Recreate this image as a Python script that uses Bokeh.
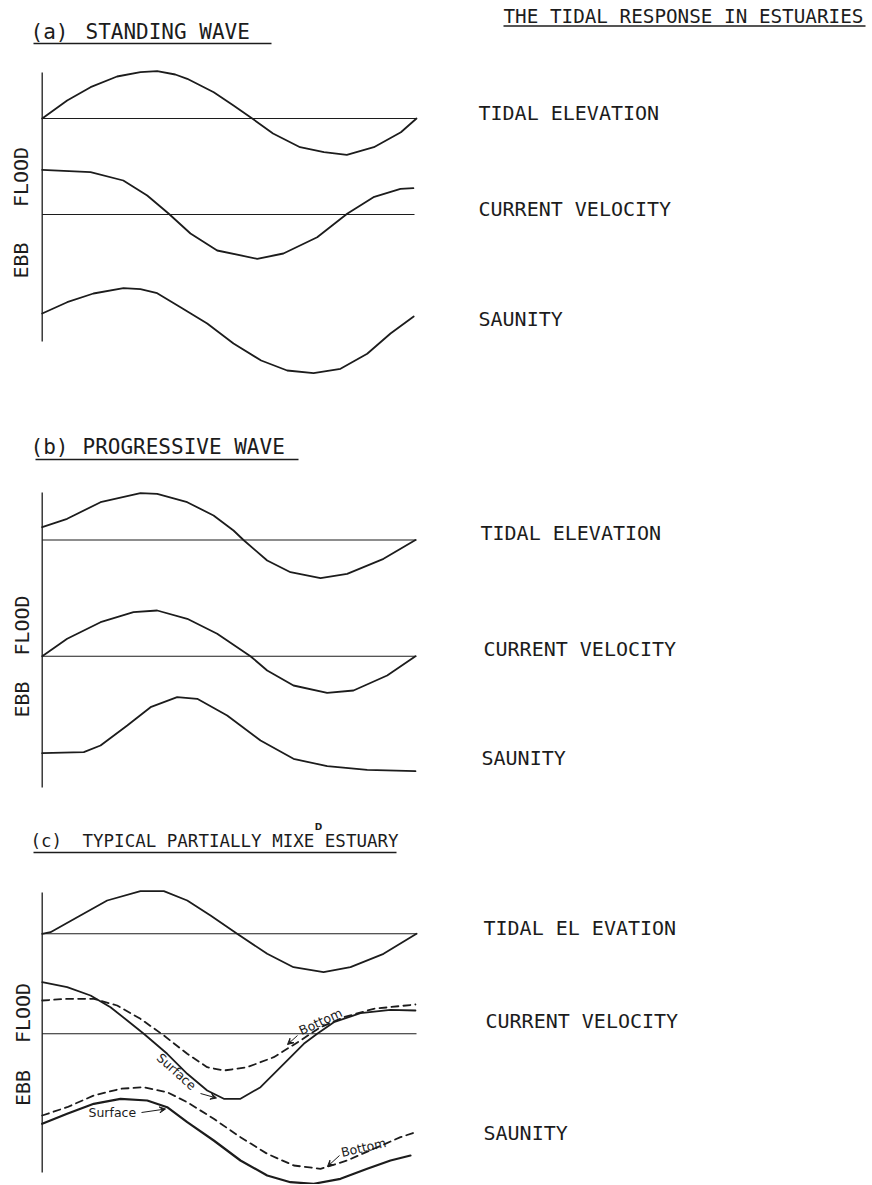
import math
from bokeh.plotting import figure
from bokeh.models import Range1d, Arrow, VeeHead
from bokeh.core.properties import value
from bokeh.embed import file_html
from bokeh.resources import INLINE

# ---------------- data: phase of the tidal cycle (degrees) and relative amplitude ----------------
# (a) standing wave
A_ELEV_PHASE = [0, 24, 46.5, 72, 94.5, 110.6, 128, 139.5, 165, 184, 202, 222, 248, 271, 293, 319, 345, 360]
A_ELEV = [0, 1.8, 3.13, 4.2, 4.63, 4.73, 4.4, 3.97, 2.63, 1.3, 0, -1.5, -2.87, -3.37, -3.63, -2.87, -1.37, 0]
A_VEL_PHASE = [0, 46.5, 78, 101, 121.5, 142.6, 168.3, 206.8, 232, 264.5, 293.3, 318.6, 344.6, 357]
A_VEL = [4.47, 4.23, 3.4, 1.9, 0.1, -1.9, -3.6, -4.43, -3.9, -2.27, 0.07, 1.73, 2.57, 2.63]
A_SAL_PHASE = [0, 24, 49.3, 78.2, 94.5, 110.6, 133, 158.7, 184, 210.6, 235.6, 261, 286.9, 312.6, 335, 357.3]
A_SAL = [1.7, 2.83, 3.7, 4.23, 4.13, 3.73, 2.33, 0.7, -1.3, -3.0, -4.0, -4.27, -3.83, -2.33, -0.3, 1.4]

# (b) progressive wave
B_ELEV_PHASE = [0, 24, 56.1, 94.5, 110.6, 139.5, 164.8, 184, 193.6, 216.4, 238.8, 267.7, 293.3, 328.3, 359]
B_ELEV = [1.28, 2.12, 3.78, 4.68, 4.62, 3.78, 2.45, 0.95, 0, -2.05, -3.22, -3.82, -3.38, -1.88, 0]
B_VEL_PHASE = [0, 24, 56.1, 87.8, 110.6, 139.5, 168.3, 200.3, 216.4, 241.7, 274.1, 299.4, 331.8, 359]
B_VEL = [0, 1.74, 3.4, 4.4, 4.57, 3.74, 2.24, 0, -1.43, -2.93, -3.66, -3.43, -1.93, 0]
B_SAL_PHASE = [0, 40, 56.1, 81.8, 104.2, 129.8, 149.1, 177.9, 210, 241.7, 274.1, 312.6, 359]
B_SAL = [-1.27, -1.17, -0.5, 1.5, 3.33, 4.33, 4.17, 2.5, 0, -1.83, -2.57, -2.93, -3.07]

# (c) typical partially mixed estuary
C_ELEV_PHASE = [0, 8, 33.7, 62.5, 94.5, 117, 139.5, 161.9, 187.5, 216.4, 241.7, 270.6, 296.5, 328.3, 360]
C_ELEV = [0, 0.16, 1.66, 3.33, 4.26, 4.26, 3.33, 1.83, 0, -2.0, -3.34, -3.84, -3.34, -2.0, 0]
C_VEL_SURF_PHASE = [0, 24, 46.5, 65.7, 81.8, 97.7, 120.2, 139.5, 158.7, 174.7, 190.7, 210, 232.4, 251.6, 264.5, 280.5, 306.1, 335, 359]
C_VEL_SURF = [5.16, 4.66, 3.83, 2.66, 1.33, 0, -2.0, -4.0, -5.67, -6.5, -6.5, -5.34, -3.0, -1.0, 0, 1.16, 2.06, 2.4, 2.33]
C_VEL_BOT_PHASE = [0, 24, 49.6, 72.1, 94.5, 117, 139.5, 158.7, 174.7, 197.2, 222.7, 248.4, 267.7, 290.1, 318.9, 359]
C_VEL_BOT = [3.33, 3.5, 3.5, 2.83, 1.5, -0.17, -2.0, -3.34, -3.67, -3.34, -2.34, -0.67, 0.66, 1.66, 2.5, 2.93]
C_SAL_SURF_PHASE = [0, 24, 49.6, 75.3, 101, 120.2, 139.5, 165, 190.7, 216.4, 238.8, 261.2, 286.9, 312.6, 335, 354.2]
C_SAL_SURF = [1.67, 2.67, 3.67, 4.17, 4.0, 3.33, 1.83, 0, -2.0, -3.5, -4.17, -4.33, -3.83, -2.83, -2.0, -1.5]
C_SAL_BOT_PHASE = [0, 24, 49.6, 75.3, 97.7, 120.2, 139.5, 165, 190.7, 216.4, 242, 267.7, 293.3, 318.9, 344.6, 359]
C_SAL_BOT = [2.5, 3.33, 4.5, 5.17, 5.33, 4.83, 3.83, 2.17, 0.33, -1.33, -2.5, -2.83, -2.0, -0.83, 0.33, 0.83]

# texts
MAIN_TITLE = "THE TIDAL RESPONSE IN ESTUARIES"
PANEL_TAGS = ["(a)", "(b)", "(c)"]
PANEL_TITLES = ["STANDING WAVE", "PROGRESSIVE WAVE", "TYPICAL PARTIALLY MIXE ESTUARY"]
ROW_LABELS = [["TIDAL ELEVATION", "CURRENT VELOCITY", "SAUNITY"],
              ["TIDAL ELEVATION", "CURRENT VELOCITY", "SAUNITY"],
              ["TIDAL EL EVATION", "CURRENT VELOCITY", "SAUNITY"]]
AXIS_WORDS = ["EBB", "FLOOD"]

# ---------------- layout ----------------
W, H = 870, 1184
INK = "#1c1c1c"
U = 10.0  # pixels per amplitude unit


def X(px):
    """page x pixel -> phase degrees"""
    return (px - 41.7) / 1.0397


p = figure(width=W, height=H, x_range=Range1d(X(0), X(W)), y_range=Range1d(H, 0),
           output_backend="svg", toolbar_location=None, min_border=0,
           x_axis_type=None, y_axis_type=None, outline_line_color=None,
           background_fill_color="white", border_fill_color="white")
p.grid.visible = False

MONO = value("DejaVu Sans Mono")
SANS = value("DejaVu Sans")


def curve(ph, vals, base, dash="solid", lw=1.8):
    p.line(x=ph, y=[base - v * U for v in vals], line_color=INK, line_width=lw,
           line_dash=dash, line_join="round", line_cap="round")


def txt(px, py, s, size, font=MONO, align="left", angle=0.0, style="normal"):
    p.text(x=[X(px)], y=[py], text=[s], text_font=font, text_font_size=f"{size}px",
           text_align=align, text_baseline="middle", angle=angle, text_color=INK,
           text_font_style=style)


def seg(x0, y0, x1, y1, lw=1.2):
    p.segment(x0=[X(x0)], y0=[y0], x1=[X(x1)], y1=[y1], line_color=INK, line_width=lw)


# main title
txt(503, 15.5, MAIN_TITLE, 19.3)
seg(503, 25.5, 865, 25.5, 1.3)

panels = [
    dict(title_y=31.3, title_x=85, ul=(33, 271, 43), axis=(72, 341), ebb_x=20, ebb_y=(260, 176.5),
         bases=(118, 214, 330), zero_ends=(416, 414), label_x=(478, 478, 478), label_y=(112.8, 208.3, 318.8),
         series=[(A_ELEV_PHASE, A_ELEV, 0, "solid"), (A_VEL_PHASE, A_VEL, 1, "solid"),
                 (A_SAL_PHASE, A_SAL, 2, "solid")]),
    dict(title_y=446.3, title_x=82, ul=(35, 298, 459), axis=(492, 787), ebb_x=21.7, ebb_y=(699, 625),
         bases=(539.5, 655.7, 740), zero_ends=(416, 416), label_x=(480, 483, 481), label_y=(532.2, 648, 757),
         series=[(B_ELEV_PHASE, B_ELEV, 0, "solid"), (B_VEL_PHASE, B_VEL, 1, "solid"),
                 (B_SAL_PHASE, B_SAL, 2, "solid")]),
    dict(title_y=840.8, title_x=82, ul=(33, 396, 852), axis=(892, 1172), ebb_x=22.3, ebb_y=(1087.5, 1012.5),
         bases=(933.3, 1033.3, 1140), zero_ends=(416.7, 416), label_x=(483, 485, 483), label_y=(927.3, 1020.2, 1132.5),
         series=[(C_ELEV_PHASE, C_ELEV, 0, "solid"), (C_VEL_SURF_PHASE, C_VEL_SURF, 1, "solid"),
                 (C_VEL_BOT_PHASE, C_VEL_BOT, 1, "7 5"), (C_SAL_SURF_PHASE, C_SAL_SURF, 2, "solid"),
                 (C_SAL_BOT_PHASE, C_SAL_BOT, 2, "7 5")]),
]

title_sizes = [21, 21, 17.5]
for i, pn in enumerate(panels):
    txt(30, pn["title_y"], PANEL_TAGS[i], title_sizes[i])
    txt(pn["title_x"], pn["title_y"], PANEL_TITLES[i], title_sizes[i])
    x0, x1, yu = pn["ul"]
    seg(x0, yu, x1, yu, 1.4)
    # vertical axis
    seg(41.7, pn["axis"][0], 41.7, pn["axis"][1], 1.3)
    # zero lines for elevation and velocity
    seg(41.7, pn["bases"][0], pn["zero_ends"][0], pn["bases"][0], 1.1)
    seg(41.7, pn["bases"][1], pn["zero_ends"][1], pn["bases"][1], 1.1)
    for ph, vals, row, dash in pn["series"]:
        lw = 2.2 if (i == 2 and row == 2 and dash == "solid") else 1.8
        curve(ph, vals, pn["bases"][row], dash, lw)
    # axis label words (ebb below, flood above)
    for w, cy in zip(AXIS_WORDS, pn["ebb_y"]):
        txt(pn["ebb_x"], cy, w, 20, align="center", angle=math.pi / 2)
    # row labels
    for r in range(3):
        txt(pn["label_x"][r], pn["label_y"][r], ROW_LABELS[i][r], 20)

# the stray 'D' written above MIXE
txt(318, 826, "D", 9, font=SANS, align="center", style="bold")

# annotations of panel (c)
ANN = [("Bottom", 320, 1021, 25), ("Surface", 176, 1071, -42), ("Bottom", 363, 1147, 13)]
for s, ax, ay, ang in ANN:
    txt(ax, ay, s, 12.5, font=SANS, align="center", angle=math.radians(ang))
txt(88, 1112, "Surface", 12.5, font=SANS, align="left")

ARROWS = [(297, 1035, 287, 1044), (200, 1093, 216, 1097.5), (141, 1112, 165, 1108.5), (339, 1155, 327, 1166)]
for xs, ys, xe, ye in ARROWS:
    p.add_layout(Arrow(end=VeeHead(size=6, line_color=INK, fill_color=INK, line_width=1),
                       x_start=X(xs), y_start=ys, x_end=X(xe), y_end=ye,
                       line_color=INK, line_width=1))

open("out.html", "w").write(file_html(p, INLINE))
